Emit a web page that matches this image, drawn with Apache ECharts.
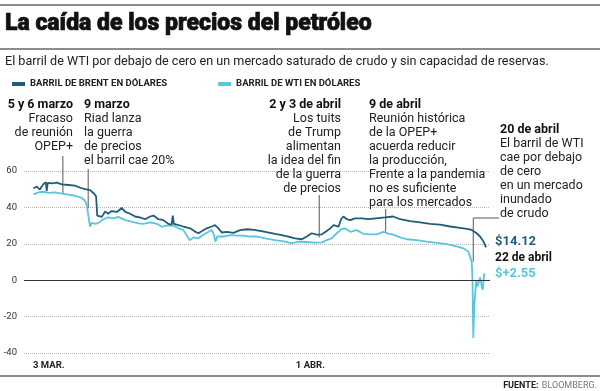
<!DOCTYPE html>
<html><head><meta charset="utf-8">
<script src="https://cdn.jsdelivr.net/npm/echarts@6/dist/echarts.min.js"></script>
<style>html,body{margin:0;padding:0;background:#fff}#c{width:600px;height:391px}</style>
</head><body><div id="c"></div>
<script>
// ---------- DATA ----------
const brentDates = ['2020-03-03 01:00','2020-03-03 10:00','2020-03-03 18:00','2020-03-03 23:00','2020-03-04 03:00','2020-03-04 10:00','2020-03-04 12:00','2020-03-04 15:00','2020-03-05 02:00','2020-03-05 15:00','2020-03-06 04:00','2020-03-06 22:00','2020-03-07 15:00','2020-03-08 05:00','2020-03-08 18:00','2020-03-09 07:00','2020-03-09 18:00','2020-03-09 23:00','2020-03-10 02:00','2020-03-10 07:00','2020-03-10 14:00','2020-03-10 23:00','2020-03-11 07:00','2020-03-11 16:00','2020-03-12 06:00','2020-03-12 19:00','2020-03-13 04:00','2020-03-13 17:00','2020-03-14 06:00','2020-03-14 19:00','2020-03-15 09:00','2020-03-15 22:00','2020-03-16 07:00','2020-03-16 20:00','2020-03-17 09:00','2020-03-17 22:00','2020-03-18 07:00','2020-03-18 10:00','2020-03-18 13:00','2020-03-19 01:00','2020-03-19 14:00','2020-03-20 08:00','2020-03-20 21:00','2020-03-21 06:00','2020-03-21 19:00','2020-03-22 04:00','2020-03-22 17:00','2020-03-23 02:00','2020-03-23 11:00','2020-03-23 20:00','2020-03-24 09:00','2020-03-25 03:00','2020-03-25 20:00','2020-03-26 14:00','2020-03-27 10:00','2020-03-28 15:00','2020-03-29 17:00','2020-03-30 11:00','2020-03-31 04:00','2020-03-31 22:00','2020-04-01 16:00','2020-04-02 05:00','2020-04-02 18:00','2020-04-03 08:00','2020-04-03 21:00','2020-04-04 10:00','2020-04-04 19:00','2020-04-05 04:00','2020-04-05 17:00','2020-04-06 00:00','2020-04-06 06:00','2020-04-06 15:00','2020-04-07 00:00','2020-04-07 13:00','2020-04-08 07:00','2020-04-09 00:00','2020-04-09 20:00','2020-04-10 20:00','2020-04-11 18:00','2020-04-12 12:00','2020-04-13 15:00','2020-04-14 17:00','2020-04-15 20:00','2020-04-16 22:00','2020-04-18 01:00','2020-04-19 03:00','2020-04-19 21:00','2020-04-20 10:00','2020-04-20 14:00','2020-04-20 23:00','2020-04-21 08:00','2020-04-21 17:00','2020-04-22 00:00'];
const brentValues = [50.5,51.4,49.8,51.5,52.7,53.8,49,53.5,53.2,53.6,52.6,52.3,52,50.8,50,49.5,47.5,46,35.5,36.5,34.8,37.8,36.5,38,37.5,39.7,37.5,36.5,35,34.5,33.5,35,35.5,33.5,33,31,30.5,35.5,31,30.3,29.5,28.5,26.7,25.8,27.4,28.5,29.5,30.3,28.5,26.2,26.5,26,27.5,28,27.6,26.6,25.5,24.8,24,23,22.5,24,25.8,25,25.2,27,28.5,30.3,29.4,33.5,35,33.5,33,34,34,33.5,34,34.5,35,33.5,32.5,31.8,31,30.5,29.5,28.8,28.2,27.6,26.8,25.8,24,21.2,18];

const wtiDates = ['2020-03-03 01:00','2020-03-03 14:00','2020-03-04 03:00','2020-03-04 17:00','2020-03-05 10:00','2020-03-06 04:00','2020-03-06 22:00','2020-03-07 15:00','2020-03-08 09:00','2020-03-08 18:00','2020-03-08 22:00','2020-03-09 02:00','2020-03-09 07:00','2020-03-09 11:00','2020-03-09 16:00','2020-03-09 22:00','2020-03-10 05:00','2020-03-10 18:00','2020-03-11 07:00','2020-03-11 21:00','2020-03-12 10:00','2020-03-13 04:00','2020-03-13 21:00','2020-03-14 15:00','2020-03-15 04:00','2020-03-15 09:00','2020-03-15 22:00','2020-03-16 16:00','2020-03-17 05:00','2020-03-17 18:00','2020-03-18 12:00','2020-03-19 01:00','2020-03-19 14:00','2020-03-20 01:00','2020-03-20 06:00','2020-03-20 17:00','2020-03-21 06:00','2020-03-21 19:00','2020-03-22 08:00','2020-03-22 17:00','2020-03-22 23:00','2020-03-23 03:00','2020-03-23 08:00','2020-03-24 00:00','2020-03-24 18:00','2020-03-25 12:00','2020-03-26 05:00','2020-03-26 23:00','2020-03-27 17:00','2020-03-28 15:00','2020-03-29 17:00','2020-03-30 20:00','2020-03-31 13:00','2020-04-01 07:00','2020-04-02 05:00','2020-04-03 03:00','2020-04-03 21:00','2020-04-04 10:00','2020-04-04 23:00','2020-04-05 08:00','2020-04-05 17:00','2020-04-06 00:00','2020-04-06 10:00','2020-04-07 00:00','2020-04-07 17:00','2020-04-08 11:00','2020-04-09 05:00','2020-04-09 22:00','2020-04-10 16:00','2020-04-11 05:00','2020-04-11 18:00','2020-04-12 12:00','2020-04-13 06:00','2020-04-14 08:00','2020-04-15 11:00','2020-04-16 13:00','2020-04-17 16:00','2020-04-18 18:00','2020-04-19 12:00','2020-04-20 01:00','2020-04-20 06:00','2020-04-20 10:00','2020-04-20 12:00','2020-04-20 14:00','2020-04-20 17:00','2020-04-20 22:00','2020-04-21 01:00','2020-04-21 04:00','2020-04-21 08:00','2020-04-21 13:00','2020-04-21 15:00','2020-04-21 17:00','2020-04-21 19:00'];
const wtiValues = [47.2,48.3,48.6,48,48.2,47.6,47,46.4,45.2,43.5,41.5,36,29.4,31.5,32.5,31,31.5,33.5,34.5,34,34.8,33,32.2,31.2,31,32,31.8,31,29.4,30,30,28.5,27.6,24,22,23.5,23,25,26.5,27.6,25,21.2,24,24,24.8,24.5,24.5,24,24,23,22,21.2,20.3,21.2,21,20.7,20.8,22,23,25,26.6,28,28.5,26.6,27.5,25.5,25.2,25.2,26.6,25.6,25,23.5,22.5,22,21.2,20.5,19.8,18.6,17.5,15.7,14.8,10.2,0,-31.8,-12.6,0,-3.5,-1.5,1.5,-3.6,-5.3,-1,3.8];

const seriesNames = ['BARRIL DE BRENT EN DÓLARES','BARRIL DE WTI EN DÓLARES'];
const yMin = -40, yMax = 60, yStep = 20;
const xMin = '2020-03-02 00:00', xMax = '2020-04-22 10:20';
const xTickDates = ['2020-03-03 00:00','2020-04-01 00:00'];
const xTickLabels = ['3 MAR.','1 ABR.'];
const endLabels = ['$14.12','22 de abril','$+2.55'];

// ---------- HELPERS ----------
const t = s => new Date(s.replace(' ','T')).getTime();
const BRENT = '#1f5d7c', WTI = '#58c6df';
const FONT = 'Roboto';
const tickTimes = xTickDates.map(t);

const chart = echarts.init(document.getElementById('c'), null, {renderer:'canvas'});

const option = {
  animation:false,
  backgroundColor:'#fff',
  grid:{left:24, right:110, top:171, bottom:38},
  legend:{
    data:seriesNames, left:7, top:74, icon:'rect', itemWidth:13, itemHeight:4, itemGap:51,
    textStyle:{fontFamily:FONT, fontSize:9.5, fontWeight:'bold', color:'#222'}
  },
  xAxis:{
    type:'value', min:t(xMin), max:t(xMax),
    axisLine:{show:false, onZero:false}, axisTick:{show:false}, splitLine:{show:false},
    axisLabel:{
      customValues:tickTimes, align:'left', margin:8,
      fontFamily:FONT, fontSize:9.5, fontWeight:'bold', color:'#222',
      formatter:v => { const i = tickTimes.indexOf(v); return i>=0 ? xTickLabels[i] : ''; }
    }
  },
  yAxis:{
    type:'value', min:yMin, max:yMax, interval:yStep,
    axisLine:{show:false}, axisTick:{show:false},
    axisLabel:{fontFamily:FONT, fontSize:9.5, color:'#333', margin:7},
    splitLine:{lineStyle:{type:'dotted', color:'#b5b5b5', width:1}}
  },
  series:[
    {name:seriesNames[1], type:'line', showSymbol:false, z:2,
     data:wtiDates.map((d,i)=>[t(d), wtiValues[i]]),
     lineStyle:{color:WTI, width:1.8}, itemStyle:{color:WTI}},
    {name:seriesNames[0], type:'line', showSymbol:false, z:3,
     data:brentDates.map((d,i)=>[t(d), brentValues[i]]),
     lineStyle:{color:BRENT, width:1.8}, itemStyle:{color:BRENT},
     markLine:{silent:true, symbol:'none', label:{show:false},
       lineStyle:{color:'#333', type:'solid', width:1}, data:[{yAxis:0}]}}
  ]
};
chart.setOption(option);

// ---------- ANNOTATIONS ----------
const notes = [
  {head:'5 y 6 marzo', body:'Fracaso\nde reunión\nOPEP+', x:73, y:105, align:'right'},
  {head:'9 marzo', body:'Riad lanza\nla guerra\nde precios\nel barril cae 20%', x:84, y:105, align:'left'},
  {head:'2 y 3 de abril', body:'Los tuits\nde Trump\nalimentan\nla idea del fin\nde la guerra\nde precios', x:341, y:105, align:'right'},
  {head:'9 de abril', body:'Reunión histórica\nde la OPEP+\nacuerda reducir\nla producción,\nFrente a la pandemia\nno es suficiente\npara los mercados', x:369, y:105, align:'left'},
  {head:'20 de abril', body:'El barril de WTI\ncae por debajo\nde cero\nen un mercado\ninundado\nde crudo', x:500, y:130, align:'left'}
];
const leaders = [
  {date:'2020-03-06 07:00', top:156, value:47.8},
  {date:'2020-03-09 02:00', top:169, value:39.5},
  {date:'2020-04-03 14:00', top:195, value:23.5},
  {date:'2020-04-10 22:00', top:209, value:26.6},
  {date:'2020-04-20 14:00', top:218, value:10.2, elbow:499}
];

const g = [];
[[4,2],[48,2],[375,2]].forEach(([y,h])=>g.push({type:'rect', shape:{x:0,y:y,width:600,height:h}, style:{fill:'#8c8c8c'}, silent:true}));
g.push({type:'text', x:5, y:24, style:{text:'La caída de los precios del petróleo', font:'900 23px '+FONT, fill:'#111', stroke:'#111', lineWidth:0.7, verticalAlign:'middle'}});
g.push({type:'text', x:5, y:62, style:{text:'El barril de WTI por debajo de cero en un mercado saturado de crudo y sin capacidad de reservas.', font:'12.6px '+FONT, fill:'#222', verticalAlign:'middle'}});
notes.forEach(n=>{
  g.push({type:'text', x:n.x, y:n.y, style:{text:n.head, font:'bold 12.5px '+FONT, fill:'#111', align:n.align, verticalAlign:'middle'}});
  g.push({type:'text', x:n.x, y:n.y+7, style:{text:n.body, font:'12.5px '+FONT, fill:'#222', align:n.align, verticalAlign:'top', lineHeight:14}});
});
leaders.forEach(l=>{
  const p = chart.convertToPixel({gridIndex:0}, [t(l.date), l.value]);
  g.push({type:'line', shape:{x1:p[0], y1:l.top, x2:p[0], y2:p[1]}, style:{stroke:'#555', lineWidth:1}, silent:true});
  if (l.elbow) g.push({type:'line', shape:{x1:p[0], y1:l.top, x2:l.elbow, y2:l.top}, style:{stroke:'#555', lineWidth:1}, silent:true});
});
g.push({type:'text', x:495, y:242, style:{text:endLabels[0], font:'bold 13px '+FONT, fill:BRENT, verticalAlign:'middle'}});
g.push({type:'text', x:495, y:258, style:{text:endLabels[1], font:'bold 12px '+FONT, fill:'#111', verticalAlign:'middle'}});
g.push({type:'text', x:495, y:274, style:{text:endLabels[2], font:'bold 13px '+FONT, fill:WTI, verticalAlign:'middle'}});
g.push({type:'text', x:597, y:386, style:{text:'{b|FUENTE:} {n|BLOOMBERG.}', align:'right', verticalAlign:'middle',
  rich:{b:{fontFamily:FONT, fontSize:9, fontWeight:'bold', fill:'#222'}, n:{fontFamily:FONT, fontSize:9, fill:'#777'}}}});
chart.setOption({graphic:g});
</script></body></html>
